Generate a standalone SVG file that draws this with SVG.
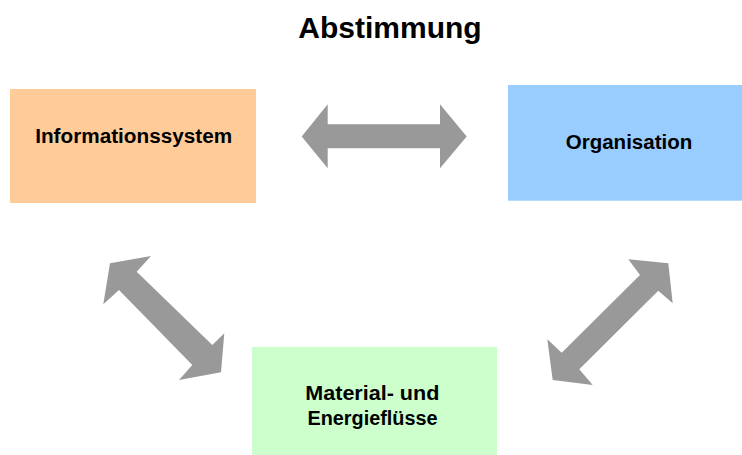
<svg xmlns="http://www.w3.org/2000/svg" width="742" height="455" viewBox="0 0 742 455">
  <style>
    .lbl { font-family: "Liberation Sans", Arial, sans-serif; font-weight: bold; font-size: 20px; fill: #000000; text-anchor: middle; }
    .title { font-family: "Liberation Sans", Arial, sans-serif; font-weight: bold; font-size: 30px; fill: #000000; text-anchor: middle; }
    .arrow { fill: #999999; stroke: none; }
  </style>
  <rect x="0" y="0" width="742" height="455" fill="#ffffff"/>
  <text class="title" x="390" y="38">Abstimmung</text>

  <g id="connectors">
    <polygon class="arrow" points="301.7,136.5 327.7,104.3 327.7,124.3 440,124.3 440,104.3 466.7,136.5 440,168.3 440,148.3 327.7,148.3 327.7,168.3"/>
    <polygon class="arrow" points="110,263.3 151,256 136.7,271.7 212.3,345 224.3,333.3 221,372.3 179,380 192.3,365 119,290 103.3,304.3"/>
    <polygon class="arrow" points="668.3,263.3 672.7,303.3 658.3,290.7 579.3,369.3 592.7,385 552.7,380 547.3,339.3 561.7,352.7 640,275 628.3,259.3"/>
  </g>

  <g id="informationssystem">
    <rect x="10" y="89" width="246" height="114" fill="#FFCC99"/>
    <text class="lbl" x="133.7" y="143" textLength="197" lengthAdjust="spacingAndGlyphs">Informationssystem</text>
  </g>

  <g id="organisation">
    <rect x="508" y="85" width="234" height="115.7" fill="#99CCFF"/>
    <text class="lbl" x="629" y="149.3" textLength="126.5" lengthAdjust="spacingAndGlyphs">Organisation</text>
  </g>

  <g id="material">
    <rect x="252" y="347" width="245" height="108" fill="#CCFFCC"/>
    <text class="lbl" x="372.3" y="400.3" textLength="134" lengthAdjust="spacingAndGlyphs">Material- und</text>
    <text class="lbl" x="372.5" y="425.3" textLength="130" lengthAdjust="spacingAndGlyphs">Energieflüsse</text>
  </g>
</svg>
